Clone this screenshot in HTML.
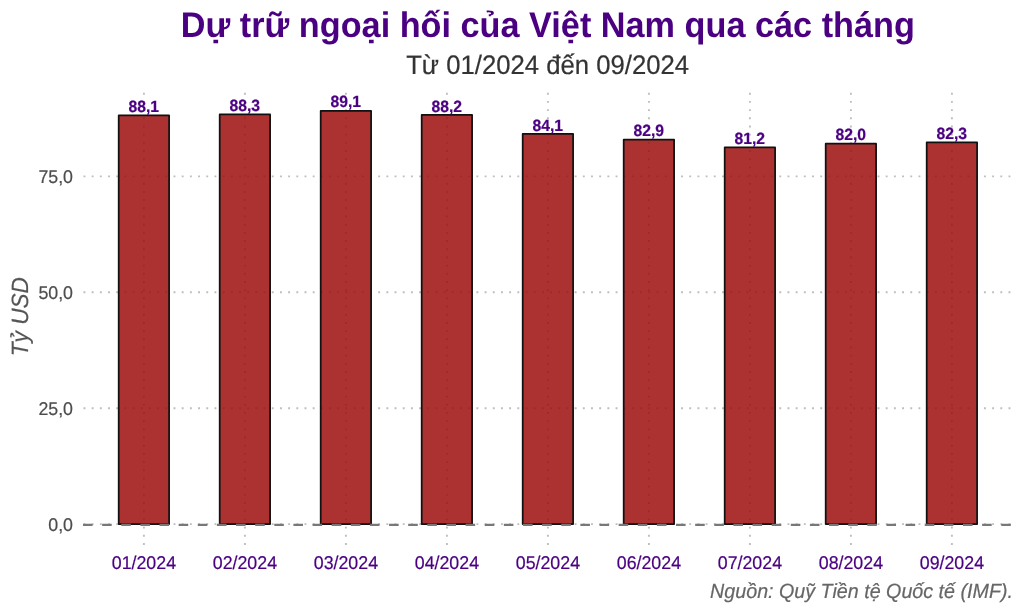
<!DOCTYPE html>
<html lang="vi"><head><meta charset="utf-8"><title>Dự trữ ngoại hối của Việt Nam</title>
<style>
html,body{margin:0;padding:0;background:#fff;}
body{width:1024px;height:614px;overflow:hidden;}
svg{display:block;font-family:"Liberation Sans",Arial,sans-serif;text-rendering:geometricPrecision;}
.vl{font-weight:bold;font-size:15.7px;fill:#4B0082;text-anchor:middle;stroke:#4B0082;stroke-width:0.2px;}
.xl{font-size:17.8px;fill:#4B0082;text-anchor:middle;stroke:#4B0082;stroke-width:0.2px;}
.yl{font-size:17.8px;fill:#4d4d4d;text-anchor:end;stroke:#4d4d4d;stroke-width:0.2px;}
.ti{font-size:34.25px;font-weight:bold;fill:#4B0082;text-anchor:middle;}
.st{font-size:25.7px;fill:#333333;text-anchor:middle;stroke:#333333;stroke-width:0.2px;}
.yt{font-size:22.6px;font-style:italic;fill:#555555;text-anchor:middle;stroke:#555555;stroke-width:0.2px;}
.cp{font-size:19.7px;font-style:italic;fill:#666666;text-anchor:end;stroke:#666666;stroke-width:0.2px;}
</style></head><body>
<svg width="1024" height="614" viewBox="0 0 1024 614">
<rect width="1024" height="614" fill="#ffffff"/>
<g stroke="#bebebe" stroke-width="1.90" stroke-dasharray="1.900 6.286" fill="none">
<line x1="83.50" y1="524.10" x2="1012.00" y2="524.10"/>
<line x1="83.50" y1="408.20" x2="1012.00" y2="408.20"/>
<line x1="83.50" y1="292.30" x2="1012.00" y2="292.30"/>
<line x1="83.50" y1="176.40" x2="1012.00" y2="176.40"/>
<line x1="143.90" y1="544.90" x2="143.90" y2="92.00"/>
<line x1="244.90" y1="544.90" x2="244.90" y2="92.00"/>
<line x1="345.90" y1="544.90" x2="345.90" y2="92.00"/>
<line x1="446.90" y1="544.90" x2="446.90" y2="92.00"/>
<line x1="547.90" y1="544.90" x2="547.90" y2="92.00"/>
<line x1="648.90" y1="544.90" x2="648.90" y2="92.00"/>
<line x1="749.90" y1="544.90" x2="749.90" y2="92.00"/>
<line x1="850.90" y1="544.90" x2="850.90" y2="92.00"/>
<line x1="951.90" y1="544.90" x2="951.90" y2="92.00"/>
</g>
<g fill="#9D0E0E" fill-opacity="0.85" stroke="#111111" stroke-width="1.75" stroke-linejoin="round">
<rect x="118.70" y="115.42" width="50.40" height="408.68"/>
<rect x="219.70" y="114.49" width="50.40" height="409.61"/>
<rect x="320.70" y="110.78" width="50.40" height="413.32"/>
<rect x="421.70" y="114.95" width="50.40" height="409.15"/>
<rect x="522.70" y="133.96" width="50.40" height="390.14"/>
<rect x="623.70" y="139.53" width="50.40" height="384.57"/>
<rect x="724.70" y="147.41" width="50.40" height="376.69"/>
<rect x="825.70" y="143.70" width="50.40" height="380.40"/>
<rect x="926.70" y="142.31" width="50.40" height="381.79"/>
</g>
<line x1="83.00" y1="524.90" x2="1012.00" y2="524.90" stroke="#787878" stroke-width="2.2" stroke-dasharray="9.565 9.565"/>
<text class="vl" transform="translate(143.70,112.12) scale(1,1.040)">88,1</text>
<text class="vl" transform="translate(244.70,111.19) scale(1,1.040)">88,3</text>
<text class="vl" transform="translate(345.70,107.48) scale(1,1.040)">89,1</text>
<text class="vl" transform="translate(446.70,111.65) scale(1,1.040)">88,2</text>
<text class="vl" transform="translate(547.70,130.66) scale(1,1.040)">84,1</text>
<text class="vl" transform="translate(648.70,136.23) scale(1,1.040)">82,9</text>
<text class="vl" transform="translate(749.70,144.11) scale(1,1.040)">81,2</text>
<text class="vl" transform="translate(850.70,140.40) scale(1,1.040)">82,0</text>
<text class="vl" transform="translate(951.70,139.01) scale(1,1.040)">82,3</text>
<text class="xl" transform="translate(143.90,569.00) scale(1,1.040)">01/2024</text>
<text class="xl" transform="translate(244.90,569.00) scale(1,1.040)">02/2024</text>
<text class="xl" transform="translate(345.90,569.00) scale(1,1.040)">03/2024</text>
<text class="xl" transform="translate(446.90,569.00) scale(1,1.040)">04/2024</text>
<text class="xl" transform="translate(547.90,569.00) scale(1,1.040)">05/2024</text>
<text class="xl" transform="translate(648.90,569.00) scale(1,1.040)">06/2024</text>
<text class="xl" transform="translate(749.90,569.00) scale(1,1.040)">07/2024</text>
<text class="xl" transform="translate(850.90,569.00) scale(1,1.040)">08/2024</text>
<text class="xl" transform="translate(951.90,569.00) scale(1,1.040)">09/2024</text>
<text class="yl" transform="translate(73.00,531.10) scale(1,1.040)">0,0</text>
<text class="yl" transform="translate(73.00,415.20) scale(1,1.040)">25,0</text>
<text class="yl" transform="translate(73.00,299.30) scale(1,1.040)">50,0</text>
<text class="yl" transform="translate(73.00,183.40) scale(1,1.040)">75,0</text>
<text class="yt" transform="translate(28.00,316.70) rotate(-90) scale(1,1.040)">Tỷ USD</text>
<text class="ti" transform="translate(547.80,36.60) scale(1,1.040)">Dự trữ ngoại hối của Việt Nam qua các tháng</text>
<text class="st" transform="translate(547.60,73.50) scale(1,1.040)">Từ 01/2024 đến 09/2024</text>
<text class="cp" transform="translate(1013.00,598.30) scale(1,1.040)">Nguồn: Quỹ Tiền tệ Quốc tế (IMF).</text>
</svg></body></html>
